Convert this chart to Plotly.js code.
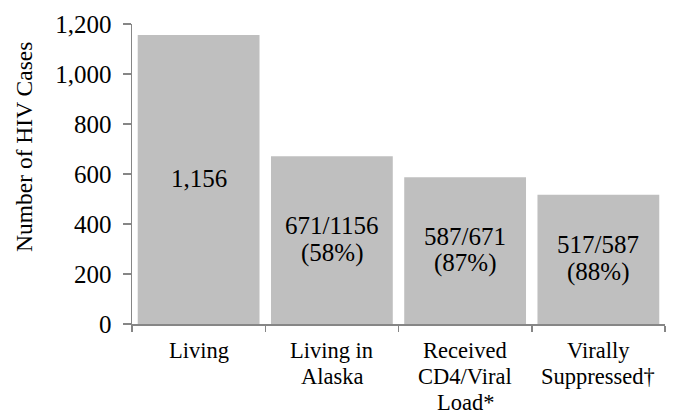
<!DOCTYPE html>
<html>
<head>
<meta charset="utf-8">
<script src="https://cdn.plot.ly/plotly-3.0.1.min.js"></script>
<style>html,body{margin:0;padding:0;background:#fff;}#chart{width:675px;height:417px;}</style>
</head>
<body>
<div id="chart"></div>
<script>
const categories = ["Living", "Living in Alaska", "Received CD4/Viral Load*", "Virally Suppressed\u2020"];
const categoryLines = [["Living"], ["Living in", "Alaska"], ["Received", "CD4/Viral", "Load*"], ["Virally", "Suppressed\u2020"]];
const cases = [1156, 671, 587, 517];
const barLabelLines = [["1,156"], ["671/1156", "(58%)"], ["587/671", "(87%)"], ["517/587", "(88%)"]];
const yTicks = [0, 200, 400, 600, 800, 1000, 1200];

const FONT = 'Liberation Serif';
const LINE = 27;
const CAT_LINE = 26;

const trace = {
  type: 'bar',
  x: categories,
  y: cases,
  marker: {color: '#BFBFBF', line: {width: 0}},
  hoverinfo: 'none'
};

const annotations = [];
// labels inside bars (centred on each bar)
barLabelLines.forEach((lines, i) => {
  lines.forEach((t, j) => {
    annotations.push({
      x: categories[i], xref: 'x',
      y: cases[i] / 2, yref: 'y',
      text: t, showarrow: false,
      xanchor: 'center', yanchor: 'middle',
      yshift: -(j - (lines.length - 1) / 2) * LINE + 1,
      font: {family: FONT, size: 25, color: '#000'}
    });
  });
});
// category labels below the axis
categoryLines.forEach((lines, i) => {
  lines.forEach((t, j) => {
    annotations.push({
      x: categories[i], xref: 'x',
      y: 0, yref: 'paper',
      text: t, showarrow: false,
      xanchor: 'center', yanchor: 'top',
      yshift: -13 - j * CAT_LINE,
      borderpad: 0,
      font: {family: FONT, size: 22.5, color: '#000'}
    });
  });
});
// y-axis title
annotations.push({
  x: 0, xref: 'paper', y: 0.59, yref: 'paper',
  xshift: -108,
  text: 'Number of HIV Cases', showarrow: false, textangle: -90,
  xanchor: 'center', yanchor: 'middle',
  font: {family: FONT, size: 23.5, color: '#000'}
});

const layout = {
  width: 675,
  height: 417,
  margin: {l: 132, r: 10, t: 24, b: 93, pad: 0},
  paper_bgcolor: '#fff',
  plot_bgcolor: '#fff',
  font: {family: FONT, size: 23, color: '#000'},
  bargap: 0.086,
  showlegend: false,
  annotations: annotations,
  xaxis: {
    type: 'category',
    showline: true,
    linecolor: '#868686',
    linewidth: 1.5,
    ticks: 'outside',
    tickson: 'boundaries',
    ticklen: 6,
    tickcolor: '#868686',
    tickwidth: 1.5,
    showgrid: false,
    zeroline: false,
    showticklabels: false,
    fixedrange: true
  },
  yaxis: {
    range: [0, 1200],
    tickvals: yTicks,
    tickformat: ',',
    showline: true,
    linecolor: '#868686',
    linewidth: 1.5,
    ticks: 'outside',
    ticklen: 8,
    tickcolor: '#868686',
    tickwidth: 1.5,
    showgrid: false,
    zeroline: false,
    ticklabelstandoff: 6,
    tickfont: {family: FONT, size: 25, color: '#000'},
    fixedrange: true
  }
};

Plotly.newPlot('chart', [trace], layout, {displayModeBar: false, staticPlot: true});
</script>
</body>
</html>
